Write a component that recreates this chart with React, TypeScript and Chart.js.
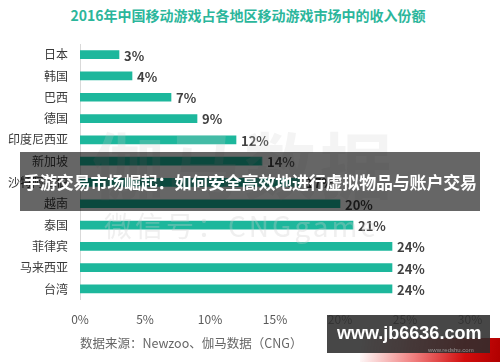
import React, { useEffect, useRef } from "react";
import Chart from "chart.js/auto";

const categories = ["日本", "韩国", "巴西", "德国", "印度尼西亚", "新加坡", "沙特阿拉伯", "越南", "泰国", "菲律宾", "马来西亚", "台湾"];
const shares = [3, 4, 7, 9, 12, 14, 17, 20, 21, 24, 24, 24];
const xTicks = [0, 5, 10, 15, 20, 25, 30];
const titleText = "2016年中国移动游戏占各地区移动游戏市场中的收入份额";
const sourceText = "数据来源：Newzoo、伽马数据（CNG）";
const bannerText = "手游交易市场崛起：如何安全高效地进行虚拟物品与账户交易";
const siteText = "www.jb6636.com";

const FONT = '"Noto Sans CJK SC", "Noto Sans", sans-serif';

const valueLabels = {
  id: "valueLabels",
  afterDatasetsDraw(chart: any) {
    const ctx = chart.ctx;
    const meta = chart.getDatasetMeta(0);
    ctx.save();
    ctx.font = `bold 13px ${FONT}`;
    ctx.fillStyle = "#404040";
    ctx.textAlign = "left";
    ctx.textBaseline = "middle";
    meta.data.forEach((el: any, i: number) => {
      ctx.fillText(`${shares[i]}%`, el.x + 5, el.y + 1);
    });
    ctx.restore();
  },
};

export default function App() {
  const ref = useRef<HTMLCanvasElement>(null);
  useEffect(() => {
    if (!ref.current) return;
    const chart = new Chart(ref.current, {
      type: "bar",
      data: {
        labels: categories,
        datasets: [
          {
            data: shares,
            backgroundColor: "#1db79c",
            barThickness: 8,
          },
        ],
      },
      options: {
        indexAxis: "y",
        responsive: false,
        animation: false,
        layout: { padding: { top: 44, right: 30, bottom: 22, left: 0 } },
        plugins: { legend: { display: false }, tooltip: { enabled: false }, title: { display: false } },
        scales: {
          x: {
            min: 0,
            max: 30,
            afterBuildTicks: (scale: any) => {
              scale.ticks = xTicks.map((v) => ({ value: v }));
            },
            ticks: {
              padding: 13,
              color: "#595959",
              font: { family: FONT, size: 12 },
              callback: (v: any) => `${v}%`,
            },
            grid: { display: false, drawTicks: false },
            border: { display: false },
          },
          y: {
            afterFit: (scale: any) => {
              scale.width = 80;
            },
            ticks: {
              padding: 12,
              color: "#3a3a3a",
              font: { family: FONT, size: 12 },
            },
            grid: { display: true, color: "transparent", drawTicks: false },
            border: { display: true, color: "#d9d9d9", width: 1 },
          },
        },
      },
      plugins: [valueLabels],
    });
    return () => chart.destroy();
  }, []);

  const abs = (s: React.CSSProperties): React.CSSProperties => ({ position: "absolute", ...s });

  return (
    <div style={{ position: "fixed", left: 0, top: 0, width: 500, height: 362, background: "#fff", overflow: "hidden", fontFamily: FONT }}>
      <div style={abs({ left: 0, top: 5, width: 496, textAlign: "center", fontWeight: 700, fontSize: 14, lineHeight: "20px", color: "#2bb69b" })}>{titleText}</div>
      <canvas ref={ref} width={500} height={362} style={{ position: "absolute", left: 0, top: 0, width: 500, height: 362 }} />
      <div style={abs({ left: 92, top: 122, fontSize: 72, fontWeight: 700, lineHeight: "80px", color: "rgba(205,205,205,0.22)", letterSpacing: 4, whiteSpace: "nowrap" })}>伽马数据</div>
      <div style={abs({ left: 104, top: 208, fontSize: 28, lineHeight: "34px", color: "rgba(205,205,205,0.32)", letterSpacing: 3, whiteSpace: "nowrap" })}>微信号：CNGgame</div>
      <div style={abs({ left: 20, top: 152, width: 460, height: 59, background: "rgba(0,0,0,0.6)", color: "#fff", fontWeight: 700, fontSize: 17, lineHeight: "59px", textAlign: "center", whiteSpace: "nowrap", letterSpacing: -0.2 })}>{bannerText}</div>
      <div style={abs({ left: 80, top: 334, fontSize: 12.5, lineHeight: "18px", color: "#666", whiteSpace: "nowrap" })}>{sourceText}</div>
      <div style={abs({ left: 360, top: 338, width: 140, height: 24, background: "linear-gradient(100deg, rgba(255,255,255,0) 0%, rgba(230,40,40,0.6) 40%, #d10d0d 75%, #b00000 100%)" })} />
      <div style={abs({ left: 327, top: 315, width: 163, height: 38, background: "rgba(45,45,45,0.88)" })} />
      <div style={abs({ left: 337, top: 322, fontFamily: '"Liberation Sans", Arial, sans-serif', fontWeight: 700, fontSize: 18, lineHeight: "22px", color: "#fff", whiteSpace: "nowrap" })}>{siteText}</div>
      <div style={abs({ left: 428, top: 346, fontFamily: '"Liberation Sans", Arial, sans-serif', fontSize: 6, lineHeight: "8px", color: "rgba(160,160,160,0.9)", whiteSpace: "nowrap" })}>www.redshu.com</div>
    </div>
  );
}
